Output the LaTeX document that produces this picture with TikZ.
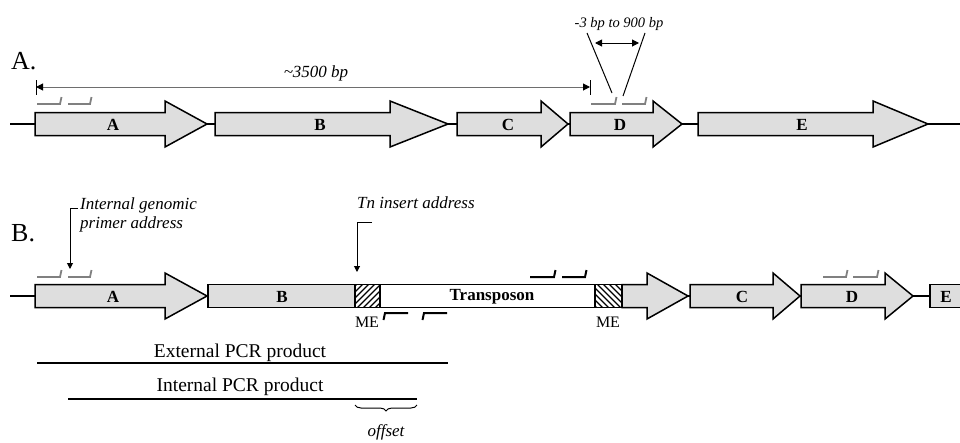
\documentclass[tikz,border=0pt]{standalone}
\usepackage{fontspec}
\setmainfont{Liberation Serif}
\usetikzlibrary{arrows.meta,decorations.pathreplacing}
\definecolor{genegray}{RGB}{222,222,222}
\definecolor{primergray}{RGB}{128,128,128}
\definecolor{dimgray}{RGB}{110,110,110}
\tikzset{
  gene/.style={draw=black, line width=1.5pt, fill=genegray, line join=miter},
  strand/.style={draw=black, line width=1.4pt},
  primer/.style={draw=primergray, line width=1.8pt},
  bprimer/.style={draw=black, line width=2pt},
  lbl/.style={font=\fontsize{17}{17}\selectfont\bfseries, inner sep=0pt},
  ital/.style={font=\fontsize{17}{19.5}\selectfont\itshape, inner sep=0pt, align=left},
  plain/.style={font=\fontsize{19.5}{19.5}\selectfont, inner sep=0pt},
  panel/.style={font=\fontsize{26}{26}\selectfont, inner sep=0pt, anchor=west},
  tip/.style={-{Triangle[length=6pt,width=6pt]}},
  hatch/.style={line width=1.1pt},
  box/.style={line width=1.5pt},
}
\newcommand\genearrow[4]{%
  \draw[gene] (#1,#4-11.5) -- (#2,#4-11.5) -- (#2,#4-23) -- (#3,#4) -- (#2,#4+23) -- (#2,#4+11.5) -- (#1,#4+11.5) -- cycle;}
\newcommand\fprimer[4][primer]{%
  \draw[#1] (#2,#4) -- (#3,#4) -- (#3+1.5,#4-7);}
\newcommand\rprimer[4][bprimer]{%
  \draw[#1] (#3,#4) -- (#2,#4) -- (#2-1.5,#4+7);}
\begin{document}
\begin{tikzpicture}[x=1pt,y=-1pt]
\useasboundingbox (0,0) rectangle (960,442);
% ---------------- Panel A ----------------
\node[panel] (pA) at (11,61) {A.};
\draw[strand] (10,124) -- (960,124);
\genearrow{35}{165}{207}{124}
\genearrow{215}{390}{448}{124}
\genearrow{457}{541}{568}{124}
\genearrow{570}{653}{682}{124}
\genearrow{698}{873}{928}{124}
\node[lbl] (a1) at (113,125) {A};
\node[lbl] (b1) at (320,125) {B};
\node[lbl] (c1) at (508,125) {C};
\node[lbl] (d1) at (620,125) {D};
\node[lbl] (e1) at (802,125) {E};
% dimension ~3500
\coordinate (dl) at (36,87);
\coordinate (dr) at (590,87);
\draw[black, line width=0.9pt] (36,80) -- (36,95);
\draw[black, line width=0.9pt] (590,80) -- (590,95);
\draw[dimgray, line width=1pt, {Triangle[length=7pt,width=7pt,fill=black,color=black]}-{Triangle[length=7pt,width=7pt,fill=black,color=black]}] (dl) -- (dr);
\node[ital] (len) at (316,73) {\textasciitilde 3500 bp};
% primers panel A
\fprimer{37}{60}{104}
\fprimer{68}{90}{104}
\fprimer{591}{615}{104}
\fprimer{622}{645}{104}
% -3 to 900
\coordinate (p1) at (612,93);
\coordinate (p2) at (623,96);
\coordinate (q1) at (587,33);
\coordinate (q2) at (645,33);
\draw[black, line width=1pt] (p1) -- (q1);
\draw[black, line width=1pt] (p2) -- (q2);
\draw[black, line width=1pt, {Triangle[length=7pt,width=7pt]}-{Triangle[length=7pt,width=7pt]}] (595,43) -- (639,43);
\node[font=\fontsize{14.5}{14.5}\selectfont\itshape, inner sep=0pt] (rng) at (619,24) {-3 bp to 900 bp};
% ---------------- Panel B ----------------
\node[panel] (pB) at (11,233) {B.};
\draw[strand] (10,296) -- (935,296);
\genearrow{35}{165}{207}{296}
\draw[gene] (208,284.5) rectangle (355,307.5);
\draw[box, fill=white] (355,284.5) rectangle (380,307.5);
\begin{scope}
  \clip (355,284.5) rectangle (380,307.5);
  \foreach \k in {-30,-24,...,30} {\draw[hatch] (355+\k,310) -- (355+\k+28,282);}
\end{scope}
\draw[box] (355,284.5) rectangle (380,307.5);
\draw[box, fill=white] (380,284.5) rectangle (595,307.5);
\draw[box, fill=white] (595,284.5) rectangle (622,307.5);
\begin{scope}
  \clip (595,284.5) rectangle (622,307.5);
  \foreach \k in {-30,-24,...,36} {\draw[hatch] (595+\k,282) -- (595+\k+28,310);}
\end{scope}
\draw[box] (595,284.5) rectangle (622,307.5);
\genearrow{622}{647}{688}{296}
\genearrow{690}{773}{800}{296}
\genearrow{801}{885}{913}{296}
\draw[gene] (930,284.5) rectangle (962,307.5);
\node[lbl] (a2) at (113,297) {A};
\node[lbl] (b2) at (282,297) {B};
\node[lbl] (tn) at (492,297) {Transposon};
\node[lbl] (c2) at (742,297) {C};
\node[lbl] (d2) at (852,297) {D};
\node[lbl] (e2) at (946,297) {E};
\node[plain, font=\fontsize{16}{16}\selectfont] (me1) at (367,322) {ME};
\node[plain, font=\fontsize{16}{16}\selectfont] (me2) at (608,322) {ME};
% primers panel B
\fprimer{37}{60}{277}
\fprimer{68}{90}{277}
\fprimer{823}{846}{277}
\fprimer{853}{877}{277}
\fprimer[bprimer]{530}{554}{277}
\fprimer[bprimer]{562}{585}{277}
\rprimer{385}{408}{313}
\rprimer{424}{447}{313}
% address callouts
\node[ital, anchor=north west] (igpa) at (80,197) {Internal genomic\\primer address};
\draw[black, line width=1pt, tip] (78,208) -- (70,208) -- (70,269);
\node[ital, anchor=north west] (tia) at (357,197) {Tn insert address};
\draw[black, line width=1pt, tip] (372,222) -- (357,222) -- (357,272);
% PCR products
\node[plain] (ext) at (240,353) {External PCR product};
\draw[black, line width=1.4pt] (37,363) -- (448,363);
\node[plain] (int) at (240,387) {Internal PCR product};
\draw[black, line width=1.4pt] (68,399) -- (417,399);
\draw[black, line width=1pt, decorate, decoration={brace, mirror, amplitude=6pt}] (355,405) -- (417,405);
\node[ital] (off) at (386,432) {offset};
\end{tikzpicture}
\end{document}
